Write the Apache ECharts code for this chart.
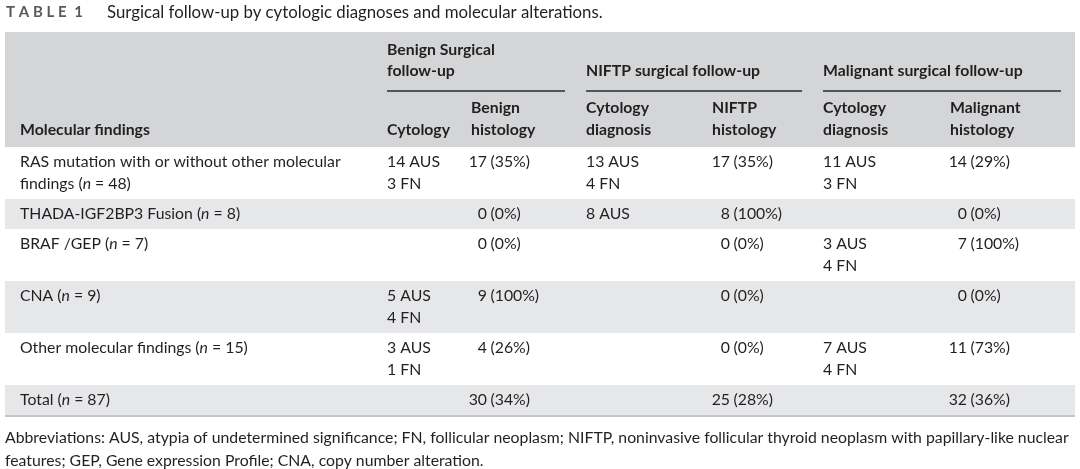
<!DOCTYPE html>
<html>
<head>
<meta charset="utf-8">
<script src="https://cdn.jsdelivr.net/npm/echarts@6/dist/echarts.min.js"></script>
<style>
html,body{margin:0;padding:0;background:#fff;}
#chart{width:1080px;height:469px;}
</style>
</head>
<body>
<div id="chart"></div>
<script>
// ---------- data ----------
const tableLabel = 'TABLE 1';
const tableTitle = 'Surgical follow-up by cytologic diagnoses and molecular alterations.';
const groupHeaders = ['Benign Surgical\nfollow-up', 'NIFTP surgical follow-up', 'Malignant surgical follow-up'];
const subHeaders = ['Molecular findings', 'Cytology', 'Benign\nhistology', 'Cytology\ndiagnosis', 'NIFTP\nhistology', 'Cytology\ndiagnosis', 'Malignant\nhistology'];
const findings = ['RAS mutation with or without other molecular\nfindings', 'THADA-IGF2BP3 Fusion', 'BRAF /GEP', 'CNA', 'Other molecular findings', 'Total'];
const findingN = [48, 8, 7, 9, 15, 87];
const benignCytology = ['14 AUS\n3 FN', '', '', '5 AUS\n4 FN', '3 AUS\n1 FN', ''];
const benignCount = [17, 0, 0, 9, 4, 30];
const benignPct = [35, 0, 0, 100, 26, 34];
const niftpCytology = ['13 AUS\n4 FN', '8 AUS', '', '', '', ''];
const niftpCount = [17, 8, 0, 0, 0, 25];
const niftpPct = [35, 100, 0, 0, 0, 28];
const malignantCytology = ['11 AUS\n3 FN', '', '3 AUS\n4 FN', '', '7 AUS\n4 FN', ''];
const malignantCount = [14, 0, 7, 0, 11, 32];
const malignantPct = [29, 0, 100, 0, 73, 36];
const footnote = 'Abbreviations: AUS, atypia of undetermined significance; FN, follicular neoplasm; NIFTP, noninvasive follicular thyroid neoplasm with papillary-like nuclear\nfeatures; GEP, Gene expression Profile; CNA, copy number alteration.';

// ---------- layout ----------
const FONT = 'Lato, "Open Sans", sans-serif';
const FS = 15.8;
const INK = '#231f20';
const TABLE_L = 5, TABLE_R = 1075;
const HEAD_TOP = 32, BODY_TOP = 147;
const LINE = 22, ROW_PAD = 8;
const colX = { label: 20, bCyt: 387, bHist: 487, nCyt: 586, nHist: 730, mCyt: 823, mHist: 967 };
const headX = [20, 387, 471, 586, 712, 823, 950];
const groupSpan = [[387, 565], [586, 802], [823, 1061]];

const lines = s => (s ? String(s).split('\n').length : 1);
const rowLines = findings.map((f, i) => Math.max(lines(f), lines(benignCytology[i]), lines(niftpCytology[i]), lines(malignantCytology[i])));
const rowTop = [];
let acc = BODY_TOP;
rowLines.forEach((n, i) => { rowTop.push(acc); acc += ROW_PAD + LINE * n; });
const rowBottom = rowTop.map((t, i) => t + ROW_PAD + LINE * rowLines[i]);

// spaced-out label "T A B L E 1"
const SP = '\u2005';
const spacedLabel = tableLabel.split(' ').map(w => w.split('').join(SP)).join(SP + SP);

function txt(p, text, opt) {
  return {
    type: 'text', x: p[0], y: p[1], silent: true,
    style: Object.assign({
      text: text, fill: INK, fontFamily: FONT, fontSize: FS, fontWeight: 'normal',
      align: 'left', verticalAlign: 'top', lineHeight: LINE
    }, opt || {})
  };
}

function renderHeader(params, api) {
  const c = (x, y) => api.coord([x, y]);
  const ch = [];
  const a = c(TABLE_L, HEAD_TOP), b = c(TABLE_R, BODY_TOP);
  ch.push({ type: 'rect', shape: { x: a[0], y: a[1], width: b[0] - a[0], height: b[1] - a[1] }, style: { fill: '#d4d5d7' }, silent: true });
  groupHeaders.forEach((g, k) => {
    ch.push(txt(c(groupSpan[k][0], 81), g, { fontWeight: 'bold', verticalAlign: 'bottom', lineHeight: 21 }));
    const p1 = c(groupSpan[k][0], 91), p2 = c(groupSpan[k][1], 91);
    ch.push({ type: 'line', shape: { x1: p1[0], y1: p1[1], x2: p2[0], y2: p2[1] }, style: { stroke: '#2a2a2a', lineWidth: 1.5 }, silent: true });
  });
  subHeaders.forEach((s, k) => {
    ch.push(txt(c(headX[k], 141), s, { fontWeight: 'bold', verticalAlign: 'bottom' }));
  });
  return { type: 'group', children: ch };
}

function renderRow(params, api) {
  const i = api.value(0);
  const c = (x, y) => api.coord([x, y]);
  const top = rowTop[i], bot = rowBottom[i];
  const ty = top + 4;
  const ch = [];
  if (i % 2 === 1) {
    const a = c(TABLE_L, top), b = c(TABLE_R, bot);
    ch.push({ type: 'rect', shape: { x: a[0], y: a[1], width: b[0] - a[0], height: b[1] - a[1] }, style: { fill: '#e6e7e9' }, silent: true });
  }
  ch.push(txt(c(colX.label, ty), findings[i] + ' ({i|n} = ' + findingN[i] + ')', {
    rich: { i: { fontStyle: 'italic', fontFamily: FONT, fontSize: FS, fill: INK, lineHeight: LINE } }
  }));
  const cells = [
    [colX.bCyt, benignCytology[i], colX.bHist, benignCount[i], benignPct[i]],
    [colX.nCyt, niftpCytology[i], colX.nHist, niftpCount[i], niftpPct[i]],
    [colX.mCyt, malignantCytology[i], colX.mHist, malignantCount[i], malignantPct[i]]
  ];
  cells.forEach(([cx, cyt, hx, cnt, pct]) => {
    if (cyt) ch.push(txt(c(cx, ty), cyt));
    ch.push(txt(c(hx, ty), String(cnt), { align: 'right' }));
    ch.push(txt(c(hx + 3.5, ty), '(' + pct + '%)'));
  });
  if (i === findings.length - 1) {
    const p1 = c(TABLE_L, bot + 1), p2 = c(TABLE_R, bot + 1);
    ch.push({ type: 'line', shape: { x1: p1[0], y1: p1[1], x2: p2[0], y2: p2[1] }, style: { stroke: '#c4c5c7', lineWidth: 2 }, silent: true });
  }
  return { type: 'group', children: ch };
}

const chart = echarts.init(document.getElementById('chart'), null, { renderer: 'canvas' });
chart.setOption({
  animation: false,
  backgroundColor: '#ffffff',
  title: [
    {
      left: 6, top: 2, padding: 0,
      text: '{t|' + spacedLabel + '}{s|' + tableTitle + '}',
      textStyle: {
        rich: {
          t: { fontFamily: FONT, fontSize: 15, fontWeight: 'bold', color: '#5a5a5c', width: 101, lineHeight: 21 },
          s: { fontFamily: FONT, fontSize: 16.8, fontWeight: 'normal', color: INK, lineHeight: 21 }
        }
      }
    },
    {
      left: 5, top: 426, padding: 0,
      text: footnote,
      textStyle: { fontFamily: FONT, fontSize: FS, fontWeight: 'normal', color: INK, lineHeight: 23 }
    }
  ],
  grid: { left: 0, right: 0, top: 0, bottom: 0 },
  xAxis: { type: 'value', min: 0, max: 1080, show: false },
  yAxis: { type: 'value', min: 0, max: 469, inverse: true, show: false },
  tooltip: { show: false },
  series: [
    { type: 'custom', name: 'header', renderItem: renderHeader, data: [[0]], silent: true, clip: false, z: 1 },
    { type: 'custom', name: 'rows', renderItem: renderRow, data: findings.map((f, i) => [i]), silent: true, clip: false, z: 2 }
  ]
});
</script>
</body>
</html>
